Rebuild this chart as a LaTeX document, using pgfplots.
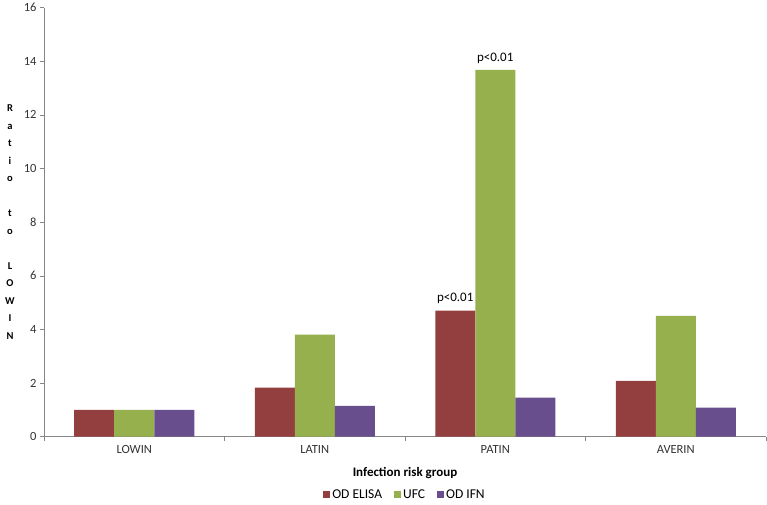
\documentclass[border=0pt]{standalone}
\usepackage{fontspec}
\setmainfont{Carlito}
\usepackage{pgfplots}
\pgfplotsset{compat=1.18}

\definecolor{elisa}{HTML}{943F3F}
\definecolor{ufc}{HTML}{97B04E}
\definecolor{ifn}{HTML}{694E8E}
\definecolor{axisgray}{HTML}{868686}

\begin{document}
\begin{tikzpicture}
\begin{axis}[
  scale only axis,
  width=722bp, height=429bp,
  xmin=-0.5, xmax=3.5,
  ymin=0, ymax=16,
  ybar=0pt, bar width=40bp,
  axis x line*=bottom, axis y line*=left,
  axis line style={axisgray, -},
  xtick={0,1,2,3},
  xticklabels={LOWIN,LATIN,PATIN,AVERIN},
  minor xtick={-0.5,0.5,1.5,2.5,3.5},
  ytick={0,2,...,16},
  major x tick style={draw=none},
  minor tick length=4bp, major tick length=4bp,
  tick align=outside,
  tick style={axisgray},
  /pgf/number format/assume math mode=true,
  ticklabel style={font=\fontsize{12.5bp}{14bp}\selectfont, text=black!80},
  xticklabel style={anchor=center, yshift=-9bp},
  xlabel={Infection risk group},
  xlabel style={font=\fontsize{13bp}{15bp}\selectfont\bfseries,
    at={(axis description cs:0.5,0)}, anchor=center, yshift=-36bp},
  legend columns=3,
  legend style={at={(axis description cs:0.5,0)}, anchor=center,
    yshift=-58bp, draw=none, font=\fontsize{13.5bp}{15bp}\selectfont,
    /tikz/every even column/.append style={column sep=10bp}},
  legend image code/.code={\fill[#1] (2bp,-3.5bp) rectangle (9bp,3.5bp);},
  clip=false,
]
\addplot[fill=elisa, draw=none] coordinates {(0,1) (1,1.83) (2,4.70) (3,2.08)};
\addlegendentry{OD ELISA}
\addplot[fill=ufc, draw=none] coordinates {(0,1) (1,3.80) (2,13.68) (3,4.50)};
\addlegendentry{UFC}
\addplot[fill=ifn, draw=none] coordinates {(0,1) (1,1.15) (2,1.45) (3,1.08)};
\addlegendentry{OD IFN}

\node[anchor=south, font=\fontsize{13bp}{15bp}\selectfont, yshift=3bp]
  at ([xshift=-40bp]axis cs:2,4.70) {p<0.01};
\node[anchor=south, font=\fontsize{13bp}{15bp}\selectfont, yshift=3bp]
  at (axis cs:2,13.68) {p<0.01};

\node[align=center, font=\fontsize{10.5bp}{17.5bp}\selectfont\bfseries]
  at ([xshift=-34bp]axis description cs:0,0.5)
  {R\\a\\t\\i\\o\\\mbox{}\\t\\o\\\mbox{}\\L\\O\\W\\I\\N};
\end{axis}
\path[use as bounding box] (-44bp,-68bp) rectangle (723bp,434bp);
\end{tikzpicture}
\end{document}
